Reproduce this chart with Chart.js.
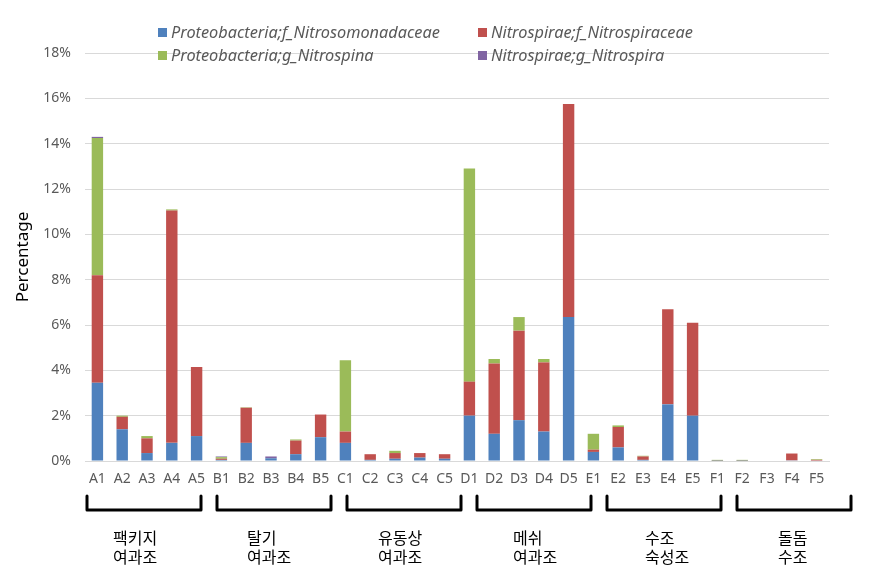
<!DOCTYPE html>
<html><head><meta charset="utf-8">
<script src="https://cdn.jsdelivr.net/npm/chart.js@4/dist/chart.umd.min.js"></script>
<style>
html,body{margin:0;padding:0;background:#fff;}
#wrap{position:relative;width:885px;height:575px;}
#legend{position:absolute;left:0;top:0;width:885px;height:70px;font-family:"Noto Sans","DejaVu Sans",sans-serif;}
.li{position:absolute;font-style:italic;font-size:16.3px;color:#595959;white-space:nowrap;line-height:20px;}
.sw{display:inline-block;width:9px;height:9px;margin-right:4px;vertical-align:1px;}
</style></head>
<body>
<div id="wrap">
<canvas id="c" width="885" height="575"></canvas>
<div id="legend"></div>
</div>
<script>
const categories = ["A1","A2","A3","A4","A5","B1","B2","B3","B4","B5","C1","C2","C3","C4","C5","D1","D2","D3","D4","D5","E1","E2","E3","E4","E5","F1","F2","F3","F4","F5"];
const nitrosomonadaceae = [3.45,1.40,0.35,0.80,1.10, 0.05,0.80,0.12,0.30,1.05, 0.80,0.05,0.10,0.15,0.10, 2.00,1.20,1.80,1.30,6.35, 0.40,0.60,0.05,2.50,2.00, 0.01,0.01,0.00,0.03,0.02];
const nitrospiraceae    = [4.75,0.55,0.65,10.25,3.05, 0.05,1.55,0.00,0.60,1.00, 0.50,0.25,0.25,0.20,0.20, 1.50,3.10,3.95,3.05,9.40, 0.10,0.90,0.15,4.20,4.10, 0.01,0.01,0.00,0.30,0.03];
const nitrospina        = [6.05,0.05,0.10,0.05,0.00, 0.07,0.02,0.00,0.05,0.00, 3.15,0.00,0.10,0.00,0.00, 9.40,0.20,0.60,0.15,0.00, 0.70,0.07,0.03,0.00,0.00, 0.03,0.03,0.00,0.00,0.03];
const nitrospira        = [0.05,0.00,0.00,0.00,0.00, 0.03,0.00,0.08,0.00,0.00, 0.00,0.00,0.00,0.00,0.00, 0.00,0.00,0.00,0.00,0.00, 0.00,0.00,0.00,0.00,0.00, 0.00,0.00,0.00,0.00,0.00];
const seriesNames = ["Proteobacteria;f_Nitrosomonadaceae","Nitrospirae;f_Nitrospiraceae","Proteobacteria;g_Nitrospina","Nitrospirae;g_Nitrospira"];
const seriesColors = ["#4F81BD","#C0504D","#9BBB59","#8064A2"];
const yTicks = [0,2,4,6,8,10,12,14,16,18];
const groupLabels = [["팩키지","여과조"],["탈기","여과조"],["유동상","여과조"],["메쉬","여과조"],["수조","숙성조"],["돌돔","수조"]];

const seriesData = [nitrosomonadaceae, nitrospiraceae, nitrospina, nitrospira];
const datasets = seriesNames.map((n,i)=>({label:n,data:seriesData[i],backgroundColor:seriesColors[i],barPercentage:0.46,categoryPercentage:1.0}));

// decorative group brackets and captions below the axis
const bracketLeft = [87,217,347,477,607,737];
const bracketWidth = 114;
const captionLeft = [113,247,378,513,645,778];
const bracketPlugin = {
  id:'brackets',
  afterDraw(chart){
    const ctx = chart.ctx;
    ctx.save();
    ctx.strokeStyle = '#000'; ctx.lineWidth = 3; ctx.lineJoin='round'; ctx.lineCap='round';
    ctx.fillStyle = '#000';
    ctx.font = '16px "Noto Sans CJK KR", sans-serif';
    ctx.textAlign = 'left'; ctx.textBaseline = 'middle';
    groupLabels.forEach((lab,g)=>{
      const x1 = bracketLeft[g], x2 = x1 + bracketWidth;
      ctx.beginPath();
      ctx.moveTo(x1,496); ctx.lineTo(x1,510); ctx.lineTo(x2,510); ctx.lineTo(x2,496);
      ctx.stroke();
      ctx.fillText(lab[0], captionLeft[g], 538);
      ctx.fillText(lab[1], captionLeft[g], 557);
    });
    ctx.restore();
  }
};

const chart = new Chart(document.getElementById('c'),{
  type:'bar',
  data:{labels:categories,datasets},
  options:{
    responsive:false,animation:false,
    layout:{padding:{top:53,right:56,left:0,bottom:0}},
    plugins:{legend:{display:false},tooltip:{enabled:false}},
    scales:{
      x:{stacked:true,
        grid:{display:false,drawTicks:false},
        border:{display:true,color:'#d9d9d9',width:1},
        ticks:{color:'#595959',font:{family:'"Noto Sans", sans-serif',size:14},padding:10,maxRotation:0,autoSkip:false},
        afterFit(s){s.height=114;}
      },
      y:{stacked:true,min:0,max:18,
        afterBuildTicks(s){s.ticks=yTicks.map(v=>({value:v}));},
        grid:{color:'#d9d9d9',drawTicks:false},
        border:{display:false},
        ticks:{color:'#595959',font:{family:'"Noto Sans", sans-serif',size:14},padding:14,callback:v=>v+'%'},
        title:{display:true,text:'Percentage',color:'#000',font:{family:'"Noto Sans", sans-serif',size:17},padding:{top:13,bottom:4}},
        afterFit(s){s.width=85;}
      }
    }
  },
  plugins:[bracketPlugin]
});

const leg = document.getElementById('legend');
const pos = [[158,22],[478,22],[158,45],[478,45]];
chart.data.datasets.forEach((d,i)=>{
  const el = document.createElement('div');
  el.className='li';
  el.style.left=pos[i][0]+'px'; el.style.top=pos[i][1]+'px';
  el.innerHTML = '<span class="sw" style="background:'+d.backgroundColor+'"></span>';
  el.appendChild(document.createTextNode(d.label));
  leg.appendChild(el);
});
</script>
</body></html>
